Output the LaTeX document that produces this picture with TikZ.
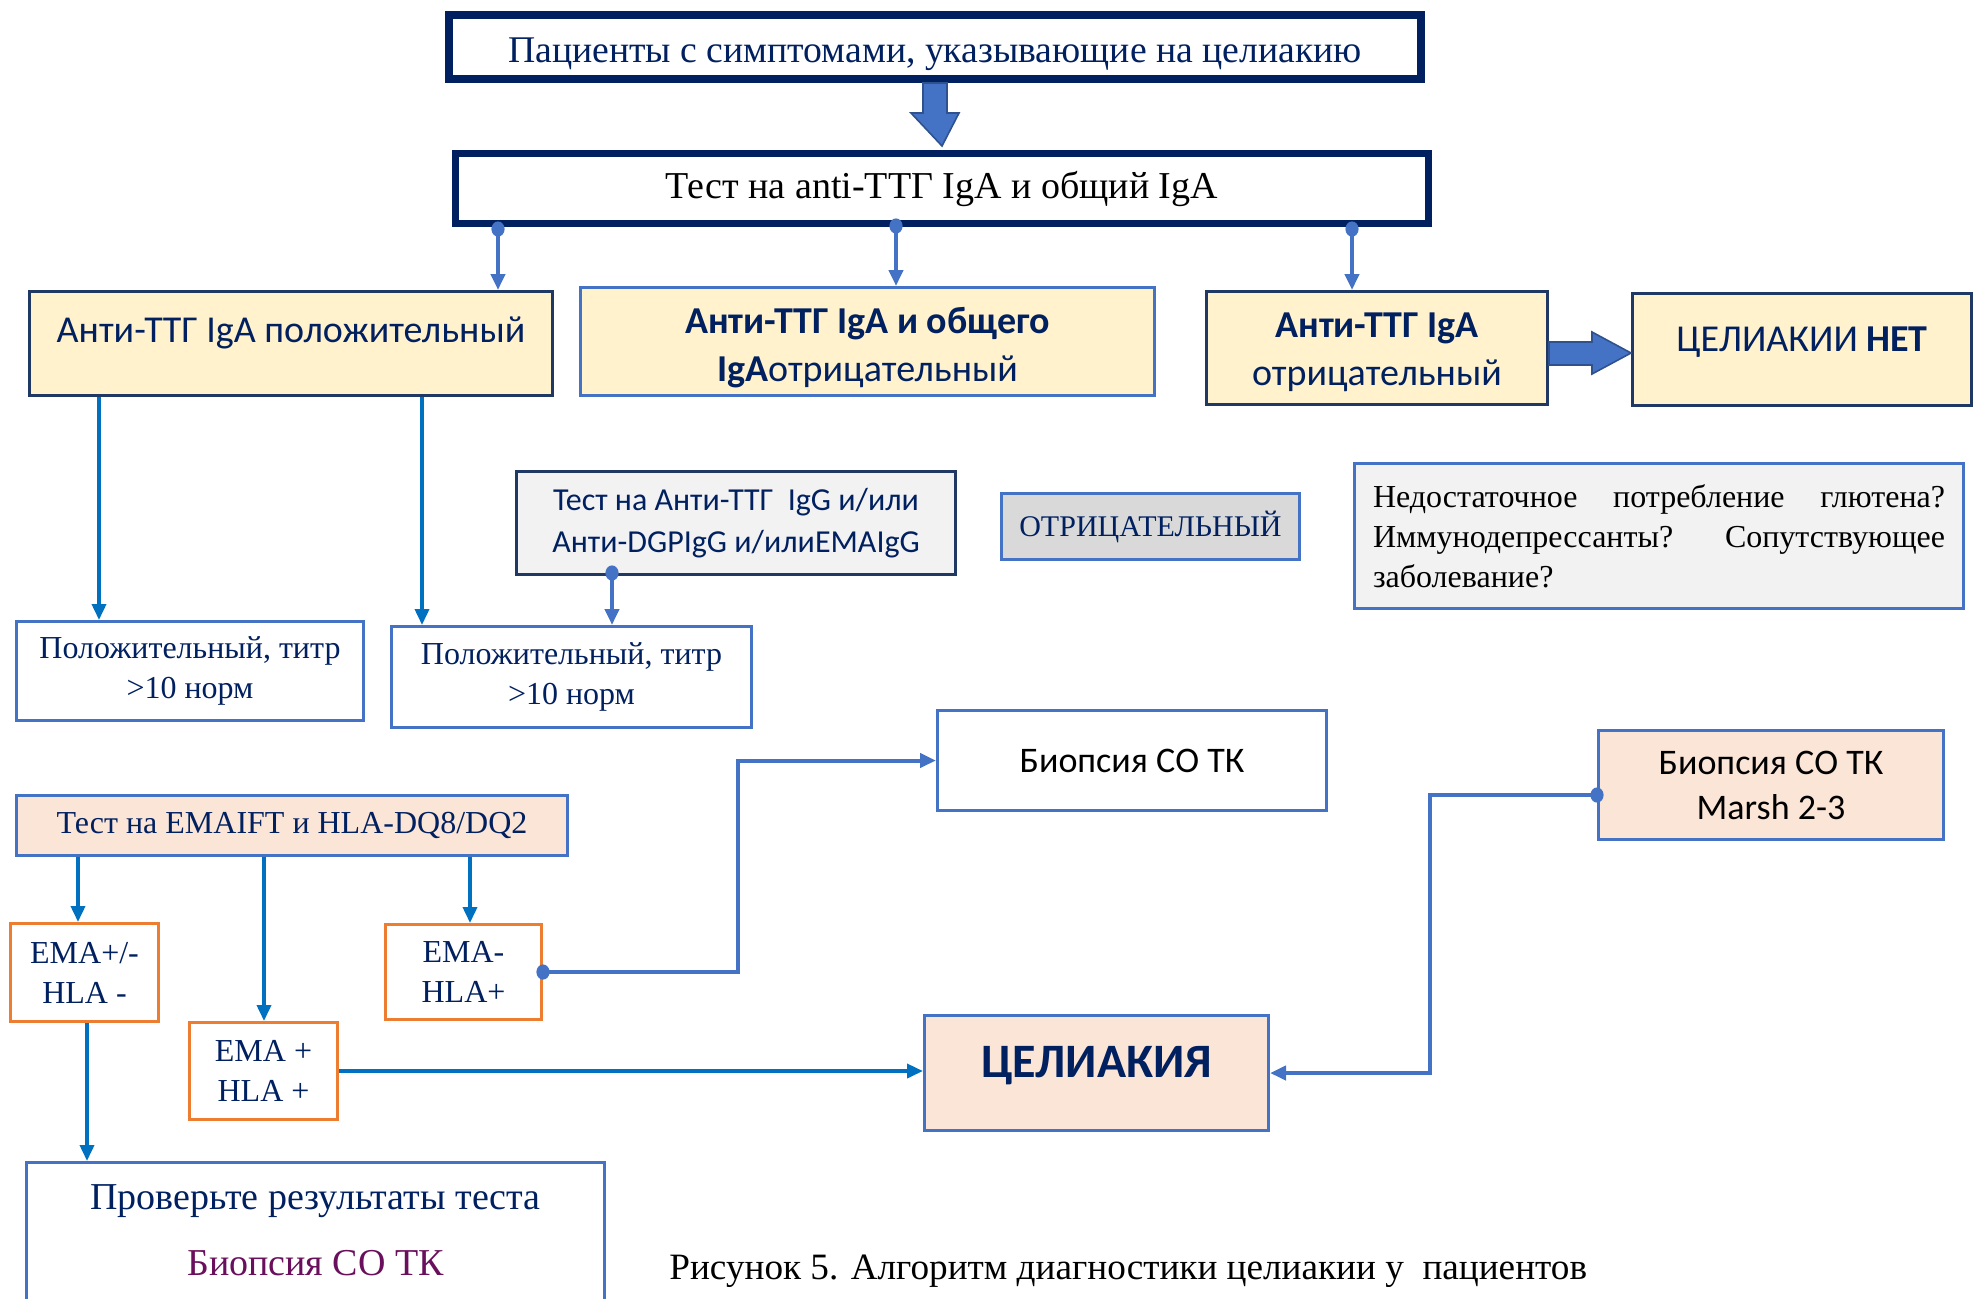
\documentclass[tikz,border=0pt]{standalone}
\usepackage{fontspec}
\setmainfont{Liberation Serif}
\newfontfamily\calib{Carlito}
\usetikzlibrary{arrows.meta,calc}
\definecolor{navy}{HTML}{002060}
\definecolor{dnavy}{HTML}{1F3864}
\definecolor{accb}{HTML}{4472C4}
\definecolor{connb}{HTML}{0070C0}
\definecolor{lyel}{HTML}{FFF2CC}
\definecolor{peach}{HTML}{FBE5D6}
\definecolor{lgrey}{HTML}{F2F2F2}
\definecolor{mgrey}{HTML}{D9D9D9}
\definecolor{orng}{HTML}{ED7D31}
\definecolor{purp}{HTML}{6A0F5C}
\definecolor{arrb}{HTML}{2F528F}
\newcommand\fsz[2]{\fontsize{#1}{#2}\selectfont}
\tikzset{
  box/.style={draw, rectangle, inner sep=0pt, align=center},
  topbox/.style={box, draw=navy, fill=white},
  ybox/.style={box, fill=lyel, draw=dnavy, line width=1.5pt, text=navy},
  bbox/.style={box, fill=white, draw=accb, line width=1.5pt},
  obox/.style={box, fill=white, draw=orng, line width=1.5pt, text=navy},
  conn/.style={draw=accb, line width=2pt, -{Triangle[length=8pt,width=7pt]}},
  conn2/.style={draw=connb, line width=1.8pt, -{Triangle[length=8pt,width=7pt]}},
  dot/.style={fill=accb},
  blockarr/.style={fill=accb, draw=arrb, line width=0.8pt},
  sanst/.style={font=\calib\fsz{19}{24}},
  serift/.style={font=\fsz{16}{20}},
}
\begin{document}
\begin{tikzpicture}[x=0.5pt,y=-0.5pt]
\useasboundingbox (0,0) rectangle (1975,1298);
\clip (0,0) rectangle (1975,1298);

% top boxes
\node[topbox, line width=4pt, minimum width=486pt, minimum height=32pt] (b1) at (935,47) {};
\node[text=navy, font=\fsz{18.85}{24}] (b1t) at (935,54) {Пациенты с симптомами, указывающие на целиакию};
\node[topbox, line width=3.5pt, minimum width=486.5pt, minimum height=35pt, text=black, font=\fsz{19}{24}] (b2) at (942,188.5) {Тест на anti-ТТГ IgA и общий IgA};

% big down arrow
\fill[blockarr] ($(b1.south)+(-12,0)$) -- ++(24,0) -- ++(0,30) -- ++(12,0) -- ($(b2.north)+(0,-4)$) -- ($(b1.south)+(-24,30)$) -- ++(12,0) -- cycle;

% second row
\node[ybox, minimum width=261.5pt, minimum height=52pt] (b3) at (291,343.5) {};
\node[sanst, text=navy] (b3t) at (291,333) {Анти-ТТГ IgA положительный};
\node[ybox, draw=accb, minimum width=287pt, minimum height=54pt] (b4) at (867.5,341.5) {};
\node[sanst, text=navy, align=center] (b4t) at (867.5,348) {\bfseries Анти-ТТГ IgA и общего\\{\bfseries IgA}отрицательный};
\node[ybox, minimum width=170.5pt, minimum height=56.5pt] (b5) at (1377,348) {};
\node[sanst, text=navy, align=center] (b5t) at (1377,352) {\bfseries Анти-ТТГ IgA\\отрицательный};
\node[ybox, minimum width=169.5pt, minimum height=56pt] (b6) at (1802,349.5) {};
\node[sanst, text=navy] (b6t) at (1802,342) {ЦЕЛИАКИИ \textbf{НЕТ}};

% connectors from b2
\coordinate (d1) at (498,229);
\coordinate (d2) at (896,226);
\coordinate (d3) at (1352,229);
\draw[conn] (d1) -- (d1 |- b3.north);
\draw[conn] (d2) -- (d2 |- b4.north);
\draw[conn] (d3) -- (d3 |- b5.north);
\fill[dot] (d1) ellipse (3.3pt and 3.8pt);
\fill[dot] (d2) ellipse (3.3pt and 3.8pt);
\fill[dot] (d3) ellipse (3.3pt and 3.8pt);

% right block arrow
\fill[blockarr] (1549,342) -- (1592,342) -- (1592,332) -- (b6.west |- 0,353) -- (1592,374) -- (1592,365) -- (1549,365) -- cycle;

% third row
\node[box, fill=lgrey, draw=dnavy, line width=1.2pt, minimum width=219.5pt, minimum height=51.5pt, text=navy, font=\calib\fsz{16}{21}] (b7) at (736,523) {Тест на Анти-ТТГ\ \ IgG и/или\\Анти-DGPIgG и/илиEMAIgG};
\node[box, fill=mgrey, draw=accb, line width=1.5pt, minimum width=149pt, minimum height=33pt, text=navy, font=\fsz{15}{18}] (b8) at (1150.5,526.5) {ОТРИЦАТЕЛЬНЫЙ};
\node[box, fill=lgrey, draw=accb, line width=1.5pt, minimum width=304.5pt, minimum height=72.5pt, text=black, font=\fsz{16}{20}, text width=286pt, align=left] (b9) at (1659,536) {Недостаточное\hfill потребление\hfill глютена?\\Иммунодепрессанты?\hfill Сопутствующее\\заболевание?};

\node[bbox, minimum width=173.5pt, minimum height=49.5pt, text=navy, serift] (b10) at (190,671) {Положительный, титр\\>10 норм};
\node[bbox, minimum width=180pt, minimum height=50.5pt, text=navy, serift] (b11) at (571.5,677) {Положительный, титр\\>10 норм};

\coordinate (x1) at (99,0);
\coordinate (x2) at (422,0);
\coordinate (d4) at (612,573);
\draw[conn2] (b3.south -| x1) -- (b10.north -| x1);
\draw[conn2] (b3.south -| x2) -- (b11.north -| x2);
\draw[conn] (d4) -- (d4 |- b11.north);
\fill[dot] (d4) ellipse (3.3pt and 3.8pt);

% biopsy boxes
\node[bbox, minimum width=194.5pt, minimum height=50pt, text=black, font=\calib\fsz{18}{22}] (b12) at (1132,760.5) {Биопсия СО ТК};
\node[bbox, fill=peach, minimum width=172.5pt, minimum height=54.5pt, text=black, font=\calib\fsz{18}{22.5}] (b13) at (1771,785) {Биопсия СО ТК\\Marsh 2-3};

% EMA test
\node[bbox, fill=peach, minimum width=275.5pt, minimum height=30pt, text=navy, serift] (b14) at (292,825.5) {Тест на EMAIFT и HLA-DQ8/DQ2};
\node[obox, minimum width=74pt, minimum height=49pt, serift] (b15) at (84.5,972.5) {EMA+/-\\HLA -};
\node[obox, minimum width=78pt, minimum height=47.5pt, serift] (b16) at (463.5,972) {EMA-\\HLA+};
\node[obox, minimum width=74pt, minimum height=48.5pt, serift] (b17) at (263.5,1071) {EMA +\\HLA +};

\coordinate (x3) at (78,0);
\coordinate (x4) at (264,0);
\coordinate (x5) at (470,0);
\coordinate (x6) at (87,0);
\draw[conn2] (b14.south -| x3) -- (b15.north -| x3);
\draw[conn2] (b14.south -| x4) -- (b17.north -| x4);
\draw[conn2] (b14.south -| x5) -- (b16.north -| x5);

% celiac
\node[bbox, fill=peach, minimum width=172pt, minimum height=57.5pt] (b18) at (1096.5,1073) {};
\node[text=navy, font=\calib\bfseries\fsz{24}{30}] (b18t) at (1096.5,1066) {ЦЕЛИАКИЯ};

% bottom box
\node[bbox, minimum width=289pt, minimum height=83pt] (b19) at (315.5,1245.5) {};
\node[text=navy, font=\fsz{19}{33}, align=center] (b19t) at (315.5,1230) {Проверьте результаты теста\\\textcolor{purp}{Биопсия СО ТК}};

\draw[conn2] (b15.south -| x6) -- (b19.north -| x6);

% connectors to biopsy / celiac
\draw[conn] (b16.east) -- ++(195,0) |- (b12.west);
\fill[dot] (b16.east) ellipse (3.3pt and 3.8pt);
\draw[conn2] (b17.east) -- (b17.east -| b18.west);
\coordinate (d5) at ([yshift=-5pt]b13.west);
\draw[conn] (d5) -- (1430,0 |- d5) |- (b18.east);
\fill[dot] (d5) ellipse (3.3pt and 3.8pt);

% caption
\node[anchor=west, font=\fsz{18.6}{24}, text=black, inner sep=0pt] (cap) at (669,1271) {Рисунок 5. Алгоритм диагностики целиакии у\ \ пациентов};
\end{tikzpicture}
\end{document}
